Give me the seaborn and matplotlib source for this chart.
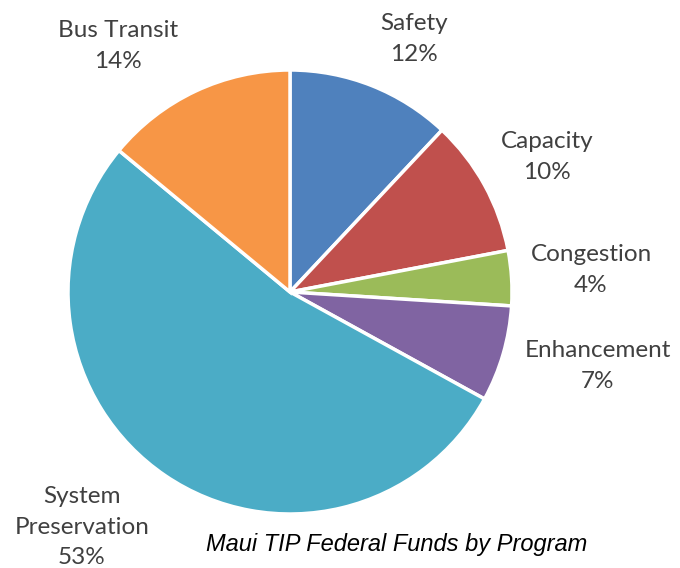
import matplotlib
matplotlib.use("Agg")
import matplotlib.pyplot as plt
import seaborn as sns

programs = ["Safety", "Capacity", "Congestion", "Enhancement",
            "System\nPreservation", "Bus Transit"]
shares = [12, 10, 4, 7, 53, 14]
colors = ["#4F81BD", "#C0504D", "#9BBB59", "#8064A2", "#4BACC6", "#F79646"]

# label centres in pixel coords (x from left, y from top)
label_pos = [(414, 39), (547, 157), (591, 270), (598, 366), (82, 527), (118, 46)]

sns.set_theme(style="white")
plt.rcParams["font.family"] = ["Lato", "DejaVu Sans"]

fig = plt.figure(figsize=(6.8, 5.68), dpi=100)
ax = fig.add_axes([0, 0, 1, 1])

wedges, _ = ax.pie(shares, colors=colors, startangle=90, counterclock=False,
                   center=(290, 276), radius=222, frame=True,
                   wedgeprops=dict(edgecolor="white", linewidth=2.5))
ax.set_xlim(0, 680)
ax.set_ylim(0, 568)
ax.set_aspect("equal")
ax.axis("off")

for name, val, (x, y) in zip(programs, shares, label_pos):
    ax.text(x, 568 - y, f"{name}\n{val}%", ha="center", va="center",
            fontsize=17.5, color="#404040", linespacing=1.55)

ax.text(397, 568 - 545, "Maui TIP Federal Funds by Program", ha="center",
        va="center", fontsize=17, style="italic", color="black",
        family=["Liberation Sans", "DejaVu Sans"])

fig.savefig("out.png", dpi=100)
